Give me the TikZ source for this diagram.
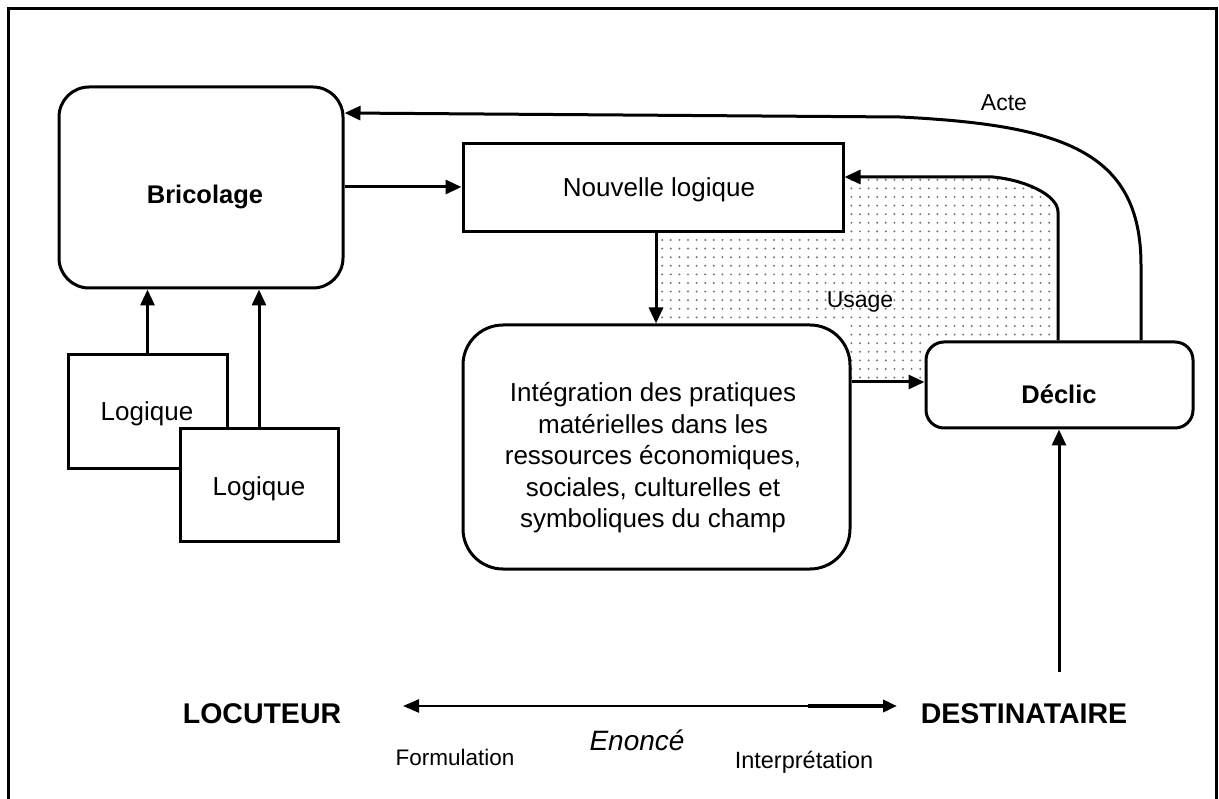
\documentclass[tikz,border=0pt]{standalone}
\usepackage{fontspec}
\setmainfont{Liberation Sans}
\usetikzlibrary{arrows.meta,patterns.meta}
\begin{document}
\begin{tikzpicture}[x=1pt,y=-1pt,
  ln/.style={line width=3pt},
  arr/.style={line width=3pt,-{Triangle[length=16pt,width=14pt]}},
  box/.style={draw,line width=3pt,fill=white,inner sep=0pt,align=center},
  txt/.style={font=\fontsize{26}{31.5}\selectfont},
  btxt/.style={font=\fontsize{25.5}{30}\selectfont\bfseries},
  big/.style={font=\fontsize{28.5}{33}\selectfont\bfseries},
  lbl/.style={font=\fontsize{23}{27}\selectfont},
]
\useasboundingbox (0,0) rectangle (1219,799);
\clip (0,0) rectangle (1219,799);
% outer frame
\draw[ln] (8,820) -- (8,9) -- (1216,9) -- (1216,820);

% dotted "Usage" area
\fill[pattern={Dots[distance=8.6pt,radius=1.1pt]},pattern color=black!55]
  (655,232) -- (843,232) -- (843,177) -- (993,177)
  .. controls (1025,180) and (1058,195) .. (1058,212)
  -- (1058,342) -- (926,342) -- (926,382) -- (850,382) -- (850,325)
  -- (655,325) -- cycle;

% boxes
\node[box,rounded corners=30pt,minimum width=284pt,minimum height=201pt] (bric) at (201,187.5) {};
\node[btxt] (brictxt) at (205,197) {Bricolage};
\node[box,txt,minimum width=380pt,minimum height=88pt] (nl) at (653,188) {};
\node[txt] (nltxt) at (659,190) {Nouvelle logique};
\node[box,rounded corners=40pt,minimum width=387pt,minimum height=244pt] (integ) at (656.5,447) {};
\node[txt,align=center] (integtxt) at (653,458) {Intégration des pratiques\\matérielles dans les\\ressources économiques,\\sociales, culturelles et\\symboliques du champ};
\node[box,rounded corners=18pt,minimum width=267pt,minimum height=86pt] (declic) at (1059.5,385) {};
\node[btxt] (declictxt) at (1059,394) {Déclic};
\node[box,minimum width=159pt,minimum height=114pt] (l1) at (147.5,412) {};
\node[txt] (l1txt) at (147,414) {Logique};
\node[box,minimum width=158pt,minimum height=112pt] (l2) at (259,485) {};
\node[txt] (l2txt) at (259,489) {Logique};

% helper coordinates
\coordinate (yb) at (0,187);
\coordinate (xn) at (656,0);
\coordinate (yi) at (0,382);
\coordinate (r1) at (1058,212);
\coordinate (t1) at (993,177);
\coordinate (a1) at (1141,265);
\coordinate (a2) at (900,117);
\coordinate (ya) at (0,113);
\coordinate (dstart) at (1059,672);

% connectors
\draw[arr] (l1.north) -- (l1.north |- bric.south);
\draw[arr] (l2.north) -- (l2.north |- bric.south);
\draw[arr] (bric.east |- yb) -- (nl.west |- yb);
\draw[arr] (xn |- nl.south) -- (xn |- integ.north);
\draw[arr] (integ.east |- yi) -- (declic.west |- yi);
\draw[arr] (declic.north -| r1) -- (r1) .. controls (1058,195) and (1025,180) .. (t1) -- (t1 -| nl.east);
\draw[arr] (declic.north -| a1) -- (a1) .. controls (1141,150) and (1060,125) .. (a2) -- (bric.east |- ya);
\draw[arr] (dstart) -- (declic.south -| dstart);

% labels
\node[lbl] (acte) at (1004,103) {Acte};
\node[lbl] (usage) at (860,302) {Usage};

% bottom
\node[big] (loc) at (262,714) {LOCUTEUR};
\node[big] (dest) at (1024,714) {DESTINATAIRE};
\coordinate (bl) at (403,706);
\coordinate (bm) at (808,706);
\coordinate (br) at (897,706);
\draw[line width=2.4pt,{Triangle[length=16pt,width=13pt]}-] (bl) -- (bm);
\draw[line width=3.8pt,-{Triangle[length=14pt,width=12pt]}] (bm) -- (br);
\node[font=\fontsize{28}{32}\selectfont\itshape] (enonce) at (637,740) {Enoncé};
\node[font=\fontsize{22.5}{26}\selectfont] (form) at (455,757) {Formulation};
\node[font=\fontsize{23.5}{27}\selectfont] (interp) at (804,762) {Interprétation};
\end{tikzpicture}
\end{document}
